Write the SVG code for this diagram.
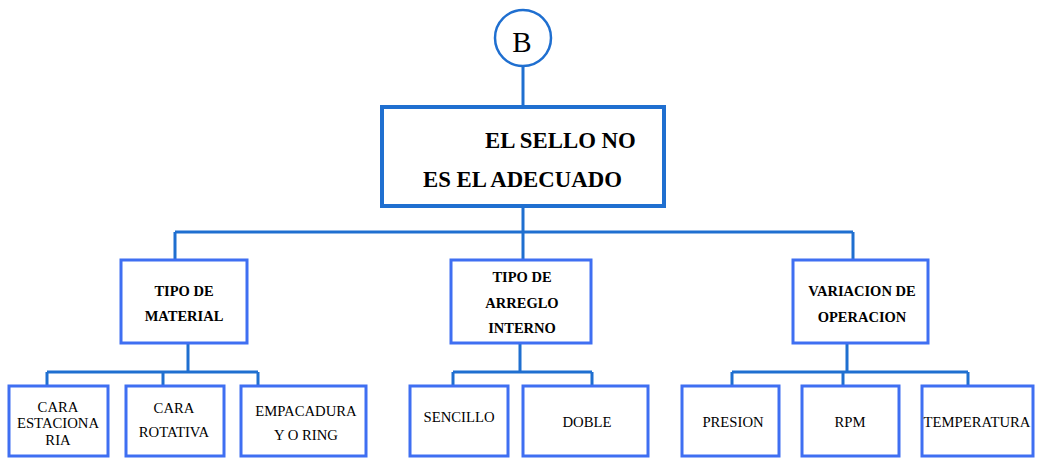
<svg xmlns="http://www.w3.org/2000/svg" width="1037" height="458" viewBox="0 0 1037 458">
<style>
.conn{fill:none;stroke:#1f6fd0;stroke-width:3}
.main{fill:#fff;stroke:#1f6fd0;stroke-width:4}
.box{fill:#fff;stroke:#3f6ff2;stroke-width:3}
text{font-family:'Liberation Serif','Times New Roman',serif;fill:#000}
.t1{font-weight:bold;font-size:22.8px}
.t2{font-weight:bold;font-size:14.5px;text-anchor:middle}
.t3{font-size:14.7px;text-anchor:middle}
</style>
<rect width="1037" height="458" fill="#fff"/>
<g id="connectors">
<path class="conn" d="M523 66 V106"/>
<path class="conn" d="M523 206 V232 M175 232 H853 M175 232 V260 M523 232 V260 M853 232 V260"/>
<path class="conn" d="M188 343 V372 M47 372 H258 M47 372 V386 M163 372 V386 M258 372 V386"/>
<path class="conn" d="M520 343 V372 M453 372 H592 M453 372 V386 M592 372 V386"/>
<path class="conn" d="M847 343 V372 M732 372 H968 M732 372 V386 M843 372 V386 M968 372 V386"/>
</g>
<g id="nodeB">
<circle cx="523" cy="38" r="28" fill="#fff" stroke="#1f6fd0" stroke-width="2.5"/>
<text x="522" y="52" font-size="29" text-anchor="middle">B</text>
</g>
<g id="main">
<rect class="main" x="382" y="107" width="282" height="99"/>
<text class="t1" x="485" y="148">EL SELLO NO</text>
<text class="t1" x="423" y="187">ES EL ADECUADO</text>
</g>
<g id="material">
<rect class="box" x="121" y="260" width="126" height="83"/>
<text class="t2" x="184" y="296">TIPO DE</text>
<text class="t2" x="184" y="321">MATERIAL</text>
</g>
<g id="arreglo">
<rect class="box" x="451" y="260" width="140" height="83"/>
<text class="t2" x="522" y="282">TIPO DE</text>
<text class="t2" x="522" y="308">ARREGLO</text>
<text class="t2" x="522" y="333">INTERNO</text>
</g>
<g id="operacion">
<rect class="box" x="793" y="260" width="135" height="83"/>
<text class="t2" x="862" y="296">VARIACION DE</text>
<text class="t2" x="862" y="322">OPERACION</text>
</g>
<g id="estacionaria">
<rect class="box" x="9" y="386" width="99" height="70"/>
<text class="t3" x="58" y="412">CARA</text>
<text class="t3" x="58" y="428">ESTACIONA</text>
<text class="t3" x="58" y="445">RIA</text>
</g>
<g id="rotativa">
<rect class="box" x="126" y="386" width="98" height="70"/>
<text class="t3" x="174" y="413">CARA</text>
<text class="t3" x="174" y="437">ROTATIVA</text>
</g>
<g id="empacadura">
<rect class="box" x="241" y="386" width="125" height="70"/>
<text class="t3" x="306" y="416">EMPACADURA</text>
<text class="t3" x="306" y="440">Y O RING</text>
</g>
<g id="sencillo">
<rect class="box" x="410" y="386" width="98" height="70"/>
<text class="t3" x="459" y="422">SENCILLO</text>
</g>
<g id="doble">
<rect class="box" x="523" y="386" width="125" height="70"/>
<text class="t3" x="587" y="427">DOBLE</text>
</g>
<g id="presion">
<rect class="box" x="682" y="386" width="97" height="70"/>
<text class="t3" x="733" y="427">PRESION</text>
</g>
<g id="rpm">
<rect class="box" x="802" y="386" width="97" height="70"/>
<text class="t3" x="850" y="427">RPM</text>
</g>
<g id="temperatura">
<rect class="box" x="922" y="386" width="111" height="70"/>
<text class="t3" x="977" y="427">TEMPERATURA</text>
</g>
</svg>
